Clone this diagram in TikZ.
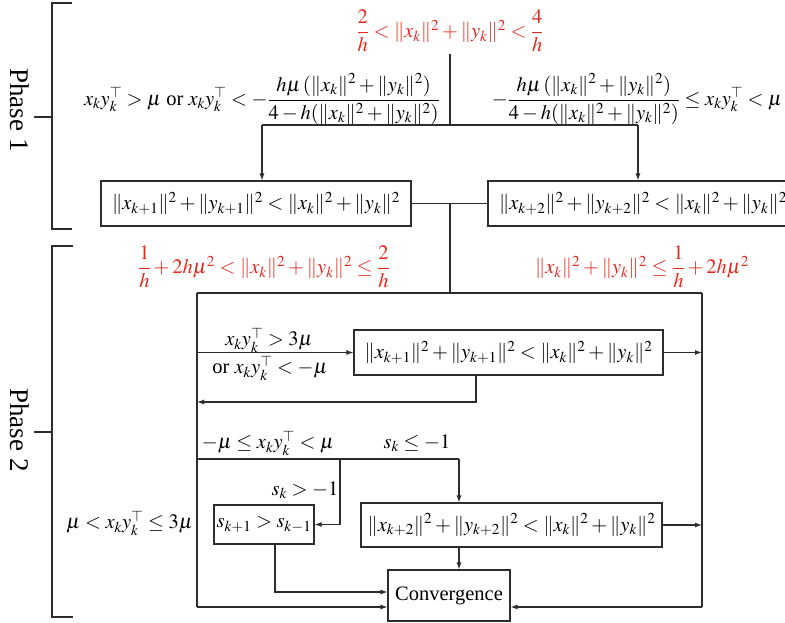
\documentclass[tikz,border=0pt]{standalone}
\usepackage{amsmath}
\usepackage{mathptmx}
\usepackage[no-math]{fontspec}
\setmainfont{Liberation Serif}
\usetikzlibrary{arrows.meta}
\definecolor{redf}{RGB}{230,38,28}
\definecolor{lnc}{RGB}{45,45,45}
\tikzset{
  ln/.style={draw=lnc, line width=1.1pt},
  arr/.style={ln, -{Latex[length=7pt,width=5pt]}},
  box/.style={draw=lnc, line width=1.1pt, inner sep=0pt, align=center},
  lbl/.style={inner sep=0pt},
  rd/.style={text=redf, inner sep=0pt},
  phase/.style={rotate=-90, inner sep=0pt, font=\fontsize{27}{30}\selectfont},
}
\begin{document}
\begin{tikzpicture}[x=1pt,y=-1pt, font=\fontsize{20.5}{24}\selectfont]
\useasboundingbox (0,0) rectangle (785,622);
% brackets
\draw[ln] (72,3) -- (52,3) -- (52,229) -- (72,229);
\draw[ln] (34,117) -- (52,117);
\draw[ln] (73,246) -- (52,246) -- (52,617) -- (73,617);
\draw[ln] (34,432) -- (52,432);
\node[phase] (ph1) at (20,110) {Phase 1};
\node[phase] (ph2) at (20,430) {Phase 2};
% Phase 1
\node[rd] (c1) at (450,31) {$\dfrac{2}{h}<\|x_k\|^2+\|y_k\|^2<\dfrac{4}{h}$};
\coordinate (j1) at (450,125);
\coordinate (jl) at (262,125);
\coordinate (jr) at (638,125);
\node[lbl] (l1) at (262,99) {$x_ky_k^\top>\mu$ or $x_ky_k^\top<-\dfrac{h\mu\,(\|x_k\|^2+\|y_k\|^2)}{4-h(\|x_k\|^2+\|y_k\|^2)}$};
\node[lbl] (l2) at (637,99) {$-\dfrac{h\mu\,(\|x_k\|^2+\|y_k\|^2)}{4-h(\|x_k\|^2+\|y_k\|^2)}\le x_ky_k^\top<\mu$};
\node[box, minimum width=310pt, minimum height=45pt] (b1) at (256,203.5) {$\|x_{k+1}\|^2+\|y_{k+1}\|^2<\|x_k\|^2+\|y_k\|^2$};
\node[box, minimum width=310pt, minimum height=45pt] (b2) at (643,203.5) {$\|x_{k+2}\|^2+\|y_{k+2}\|^2<\|x_k\|^2+\|y_k\|^2$};
\draw[ln] ([yshift=-2pt]c1.south) -- (j1);
\draw[ln] (jl) -- (jr);
\draw[arr] (jl) -- (jl |- b1.north);
\draw[arr] (jr) -- (jr |- b2.north);
\draw[ln] (b1.east) -- (b2.west);
\coordinate (j2) at (450,203.5);
\coordinate (j3) at (450,293);
\draw[ln] (j2) -- (j3);
% Phase 2
\node[rd] (c2) at (264,267) {$\dfrac{1}{h}+2h\mu^2<\|x_k\|^2+\|y_k\|^2\le\dfrac{2}{h}$};
\node[rd] (c3) at (642,267) {$\|x_k\|^2+\|y_k\|^2\le\dfrac{1}{h}+2h\mu^2$};
\coordinate (pl) at (197,293);
\coordinate (pr) at (702,293);
\draw[ln] (pl) -- (pr);
\node[box, minimum width=309pt, minimum height=45pt] (b3) at (508.5,352.5) {$\|x_{k+1}\|^2+\|y_{k+1}\|^2<\|x_k\|^2+\|y_k\|^2$};
\node[box, minimum width=100pt, minimum height=39pt] (b4) at (264,524.5) {$s_{k+1}>s_{k-1}$};
\node[box, minimum width=301pt, minimum height=44pt] (b5) at (511.5,525) {$\|x_{k+2}\|^2+\|y_{k+2}\|^2<\|x_k\|^2+\|y_k\|^2$};
\node[box, minimum width=122pt, minimum height=51pt] (cv) at (449,595.5) {Convergence};
% labels
\node[lbl] (t1) at (269,340) {$x_ky_k^\top>3\mu$};
\node[lbl] (t2) at (270,368) {or $x_ky_k^\top<-\mu$};
\node[lbl] (t3) at (268,443) {$-\mu\le x_ky_k^\top<\mu$};
\node[lbl] (t4) at (417,443) {$s_k\le-1$};
\node[lbl] (t5) at (305,490) {$s_k>-1$};
\node[lbl, anchor=east] (t6) at (193,523) {$\mu<x_ky_k^\top\le3\mu$};
% connectors
\draw[ln] (pl) -- (pl |- 0,607);
\draw[arr] (pl |- 0,607) -- (cv.west |- 0,607);
\draw[ln] (pr) -- (pr |- 0,607);
\draw[arr] (pr |- 0,607) -- (cv.east |- 0,607);
\draw[arr] (pl |- b3.west) -- (b3.west);
\draw[arr] (b3.east) -- (pr |- b3.east);
\coordinate (r3) at (476,402);
\draw[arr] (b3.south -| r3) -- (r3) -- (pl |- r3);
\coordinate (q0) at (197,459);
\coordinate (q1) at (340,459);
\coordinate (q2) at (459,459);
\draw[ln] (q0) -- (q2);
\draw[arr] (q2) -- (q2 |- b5.north);
\draw[arr] (q1) |- (b4.east);
\draw[arr] (b5.east) -- (pr |- b5.east);
\draw[arr] (q2 |- b5.south) -- (q2 |- cv.north);
\coordinate (d4) at (275,592);
\draw[arr] (b4.south -| d4) -- (d4) -- (cv.west |- d4);
\end{tikzpicture}
\end{document}
